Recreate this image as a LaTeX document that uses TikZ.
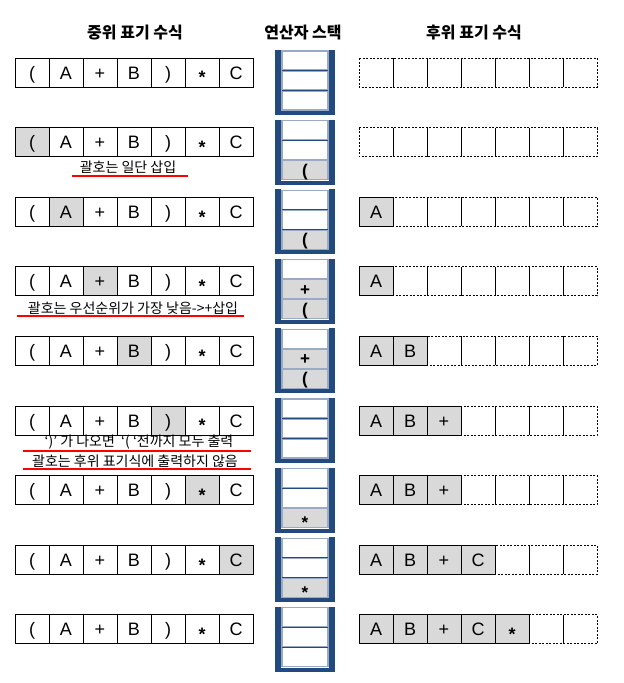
\documentclass[tikz,border=0pt]{standalone}
\usepackage{fontspec}
\setmainfont{Liberation Sans}
\newfontfamily\kor{Noto Sans CJK KR}
\definecolor{cellgray}{HTML}{D9D9D9}
\definecolor{stackblue}{HTML}{234A7E}
\definecolor{stackedge}{HTML}{9AAAC4}
\newcommand{\opstar}{\raisebox{-0.27em}{\bfseries *}}
\tikzset{
  cell/.style={draw, line width=0.8pt, minimum width=34pt, minimum height=29pt, inner sep=0pt, outer sep=0pt,
    anchor=north west, text height=13pt, text depth=0pt, font=\fontsize{18}{20}\selectfont},
  stackcell/.style={draw=stackedge, line width=1.2pt, minimum width=46pt, minimum height=19pt, inner sep=0pt, outer sep=0pt,
    anchor=north west, text height=12pt, text depth=0pt, font=\fontsize{17}{20}\selectfont\bfseries},
  head/.style={font=\kor\bfseries\fontsize{16}{18}\selectfont},
  note/.style={font=\kor\fontsize{14}{16}\selectfont, inner sep=0pt},
  redline/.style={red, line width=1.8pt}
}
\begin{document}
\begin{tikzpicture}[x=1pt, y=-1pt]
    \useasboundingbox (0,0) rectangle (624,683);

    \node[head] (h-in) at (135,33) {중위 표기 수식};
    \node[head] (h-st) at (303,33) {연산자 스택};
    \node[head] (h-post) at (474,33) {후위 표기 수식};

    \foreach \row/\hi/\n in {1/0/0,2/1/0,3/2/1,4/3/1,5/4/2,6/5/3,7/6/3,8/7/4,9/0/5} {
        \pgfmathsetmacro\yt{58+69.6*(\row-1)}
        \pgfmathsetmacro\ys{\yt-8}
        \foreach \k/\tok in {1/(,2/A,3/+,4/B,5/),6/\opstar,7/C} {
            \ifnum\k=\hi \def\cf{cellgray}\else\def\cf{white}\fi
            \node[cell, fill=\cf] (in-\row-\k) at ({15+34*(\k-1)},\yt) {\tok};
        }
        \fill[stackblue] (275,\ys) rectangle (281,{\ys+65});
        \fill[stackblue] (329,\ys) rectangle (335,{\ys+65});
        \fill[stackblue] (275,{\ys+61}) rectangle (335,{\ys+65});
        \foreach \j in {1,2,3}
            \node[stackcell, fill=white] (st-\row-\j) at (282,{\ys+1+20*(\j-1)}) {};
        \draw[stackblue, line width=0.8pt] (282,{\ys+20.5}) -- (328,{\ys+20.5});
        \draw[stackblue, line width=0.8pt] (282,{\ys+40.5}) -- (328,{\ys+40.5});
        \foreach \k/\tok in {1/A,2/B,3/+,4/C,5/\opstar} {
            \ifnum\k>\n \else
                \node[cell, fill=cellgray] (post-\row-\k) at ({359+34*(\k-1)},\yt) {\tok};
            \fi
        }
        \draw[dash pattern=on 2pt off 1.5pt, line width=0.8pt] ({359+34*\n},\yt) rectangle (597,{\yt+29});
        \pgfmathtruncatemacro\first{\n+1}
        \foreach \m in {\first,...,6}
            \draw[line width=0.8pt] ({359+34*\m},\yt) -- ({359+34*\m},{\yt+29});
    }

    \node[stackcell, fill=cellgray, anchor=center] at (st-2-3) {(};
    \node[stackcell, fill=cellgray, anchor=center] at (st-3-3) {(};
    \node[stackcell, fill=cellgray, anchor=center] at (st-4-2) {+};
    \node[stackcell, fill=cellgray, anchor=center] at (st-4-3) {(};
    \node[stackcell, fill=cellgray, anchor=center] at (st-5-2) {+};
    \node[stackcell, fill=cellgray, anchor=center] at (st-5-3) {(};
    \node[stackcell, fill=cellgray, anchor=center] at (st-7-3) {\opstar};
    \node[stackcell, fill=cellgray, anchor=center] at (st-8-3) {\opstar};

    \node[note] (n-2) at (128,167) {괄호는 일단 삽입};
    \draw[redline] (72,176) -- (188,176);
    \node[note] (n-4) at (133,308) {괄호는 우선순위가 가장 낮음->+삽입};
    \draw[redline] (17,316) -- (244,316);
    \node[note] (n-6a) at (139,442.5) {‘)’ 가 나오면 \ ‘( ‘전까지 모두 출력};
    \draw[redline] (23,451) -- (251,451);
    \node[note] (n-6b) at (135,461.5) {괄호는 후위 표기식에 출력하지 않음};
    \draw[redline] (23,469) -- (251,469);
\end{tikzpicture}
\end{document}
